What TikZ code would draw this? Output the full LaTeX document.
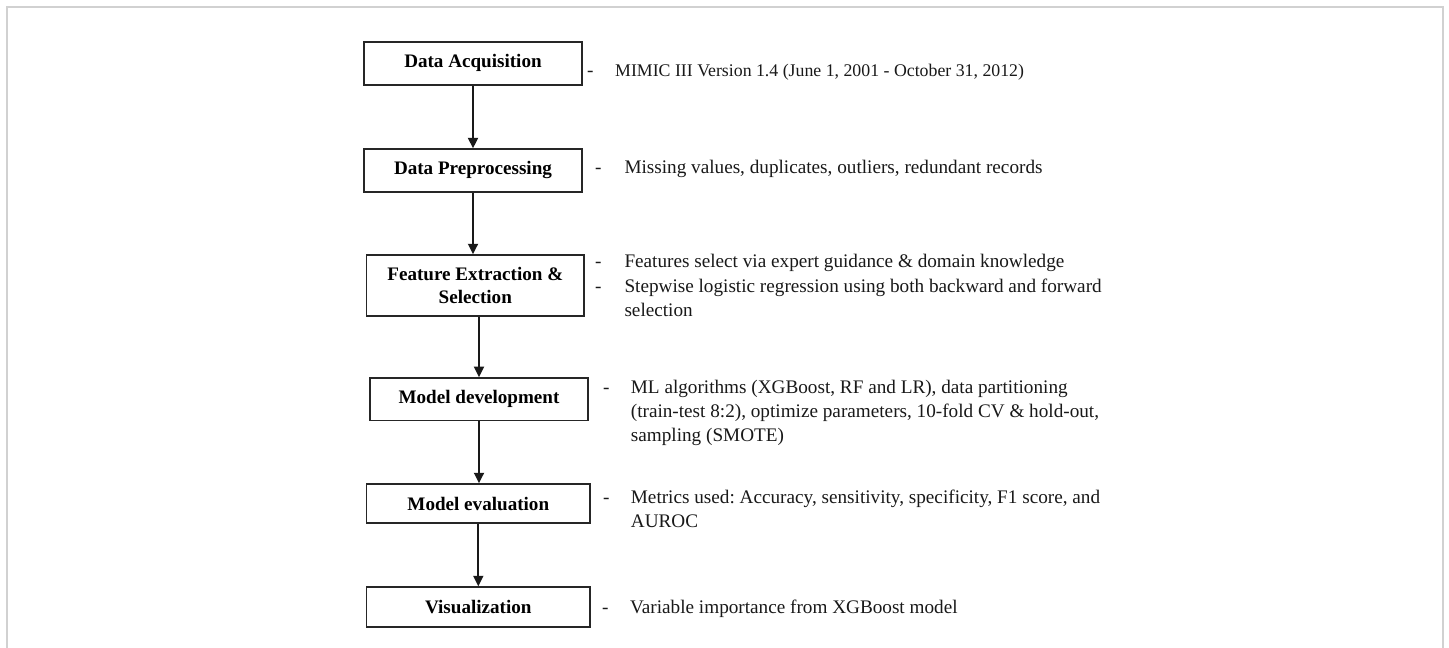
\documentclass[tikz,border=0pt]{standalone}
\usepackage{fontspec}
\setmainfont{Liberation Serif}
\usetikzlibrary{arrows.meta}
\frenchspacing
\begin{document}
\begin{tikzpicture}[x=1pt,y=-1pt,
  box/.style={draw=black!85, line width=1.5pt, inner sep=0pt, align=center,
    font=\bfseries\fontsize{19.1}{23.3}\selectfont},
  arr/.style={draw=black!90, line width=1.8pt, -{Triangle[length=10.5pt,width=10pt]}},
  desc/.style={anchor=base west, inner sep=0pt, align=left,
    font=\fontsize{19.2}{24.3}\selectfont, text=black!90},
  frame/.style={draw=black!18, line width=1.5pt}]
\useasboundingbox (0,0) rectangle (1449,648);
\fill[white] (0,0) rectangle (1449,648);
\draw[frame] (7,648) -- (7,7) -- (1443,7) -- (1443,648);
% boxes
\node[box, minimum width=218pt, minimum height=43.3pt] (acq) at (473,63.4) {Data Acquisition};
\node[box, minimum width=218pt, minimum height=42.7pt] (pre) at (473,170.4) {Data Preprocessing};
\node[box, minimum width=217.3pt, minimum height=61pt] (fea) at (475.3,285.5) {Feature Extraction \&\\Selection};
\node[box, minimum width=218pt, minimum height=42.7pt] (dev) at (479,399.3) {Model development};
\node[box, minimum width=223.3pt, minimum height=39pt] (eva) at (478.3,503.5) {Model evaluation};
\node[box, minimum width=223.3pt, minimum height=40pt] (vis) at (478.3,607) {Visualization};
% arrows
\draw[arr] (acq.south) -- (acq.south |- pre.north);
\draw[arr] (pre.south) -- (pre.south |- fea.north);
\draw[arr] (dev.north |- fea.south) -- (dev.north);
\draw[arr] (dev.south) -- (dev.south |- eva.north);
\draw[arr] (eva.south) -- (eva.south |- vis.north);
% descriptions (multi-line nodes are placed by the baseline of their last line)
\node[desc] (d1) at (587,76) {-};
\node[desc, font=\fontsize{17.8}{22}\selectfont] (t1) at (615,76) {MIMIC III Version 1.4 (June 1, 2001 - October 31, 2012)};
\node[desc] (d2) at (595,173.3) {-};
\node[desc] (t2) at (624.3,173.3) {Missing values, duplicates, outliers, redundant records};
\node[desc] (d3a) at (595,267.7) {-};
\node[desc] (d3b) at (595,292.7) {-};
\node[desc] (t3) at (624.3,316.3) {Features select via expert guidance \& domain knowledge\\Stepwise logistic regression using both backward and forward\\selection};
\node[desc] (d4) at (603,393.3) {-};
\node[desc] (t4) at (630.7,441.9) {ML algorithms (XGBoost, RF and LR), data partitioning\\(train-test 8:2), optimize parameters, 10-fold CV \& hold-out,\\sampling (SMOTE)};
\node[desc] (d5) at (603,503.3) {-};
\node[desc] (t5) at (630.7,527.6) {Metrics used: Accuracy, sensitivity, specificity, F1 score, and\\AUROC};
\node[desc] (d6) at (602,613) {-};
\node[desc] (t6) at (630,613) {Variable importance from XGBoost model};
\end{tikzpicture}
\end{document}
